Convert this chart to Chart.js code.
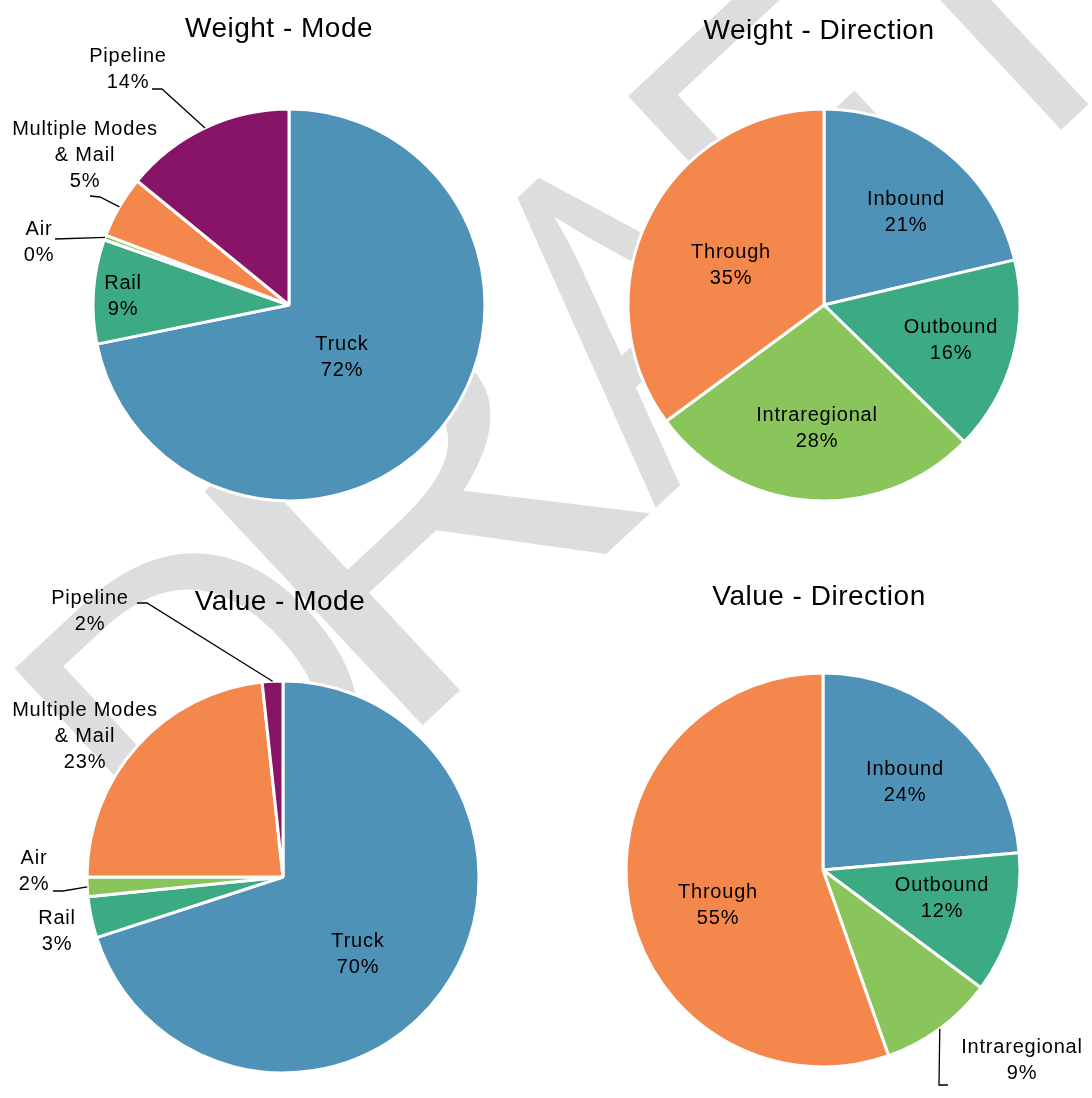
<!DOCTYPE html>
<html lang="en">
  <head>
    <meta charset="UTF-8" />
    <title>Freight by Mode and Direction</title>
    <style>
      html, body { margin: 0; padding: 0; background: #fff; }
      #page { position: relative; width: 1092px; height: 1098px; overflow: hidden; }
      #page canvas { position: absolute; left: 0; top: 0; }
    </style>
  </head>
  <body>
    <div id="page">
      <canvas id="watermark" width="1092" height="1098"></canvas>
      <canvas id="weightMode" width="1092" height="1098"></canvas>
      <canvas id="weightDirection" width="1092" height="1098"></canvas>
      <canvas id="valueMode" width="1092" height="1098"></canvas>
      <canvas id="valueDirection" width="1092" height="1098"></canvas>
    </div>

    <script src="https://cdn.jsdelivr.net/npm/chart.js@4.4.1/dist/chart.umd.min.js"></script>
    <script>
      // data (shares in percent)
      const modeLabels = ["Truck", "Rail", "Air", "Multiple Modes & Mail", "Pipeline"];
      const weightModeValues = [71.8, 8.6, 0.4, 5.1, 14.1];
      const valueModeValues = [70.0, 3.4, 1.6, 23.3, 1.7];

      const directionLabels = ["Inbound", "Outbound", "Intraregional", "Through"];
      const weightDirectionValues = [21.3, 16.0, 27.6, 35.1];
      const valueDirectionValues = [23.6, 11.6, 9.4, 55.4];

      // colours
      const blue = "#4f92b7";
      const green = "#3cab83";
      const lime = "#8ac55b";
      const orange = "#f4874b";
      const purple = "#871466";
      const modeColors = [blue, green, lime, orange, purple];
      const directionColors = [blue, green, lime, orange];

      const labelFont = '20px "Liberation Sans", Arial, sans-serif';
      const titleFont = '28px "Liberation Sans", Arial, sans-serif';
      const lineGap = 26;

      // light grey DRAFT watermark behind the pies, one glyph at a time
      const wm = document.getElementById("watermark").getContext("2d");
      const wmAngle = (-43 * Math.PI) / 180;
      const wmBase = { x: 736, y: 433 }; // baseline point under the A
      // glyph, offset along the baseline, horizontal stretch
      const wmGlyphs = [
        ["D", -732, 1],
        ["R", -489, 1.38],
        ["A", 15, 0.88],
        ["F", 107, 1],
        ["T", 340, 1],
      ];
      wm.fillStyle = "#dddddd";
      wm.font = '448px "Open Sans", "Noto Sans", sans-serif';
      wm.textBaseline = "alphabetic";
      wmGlyphs.forEach(([g, off, sx]) => {
        wm.save();
        wm.translate(wmBase.x + off * Math.cos(wmAngle), wmBase.y + off * Math.sin(wmAngle));
        wm.rotate(wmAngle);
        wm.scale(sx, 1);
        wm.textAlign = g === "A" ? "center" : "left";
        wm.fillText(g, 0, 0);
        wm.restore();
      });

      function splitLabel(text) {
        if (text === "Multiple Modes & Mail") return ["Multiple Modes", "& Mail"];
        return [text];
      }

      // draws title, data labels and leader lines
      const pieLabels = {
        id: "pieLabels",
        afterDatasetsDraw(chart, args, opts) {
          const ctx = chart.ctx;
          const meta = chart.getDatasetMeta(0);
          const values = chart.data.datasets[0].data;
          const total = values.reduce((a, b) => a + b, 0);
          ctx.save();
          ctx.fillStyle = "#000";
          ctx.textAlign = "center";

          ctx.font = titleFont;
          ctx.letterSpacing = "0.5px";
          ctx.textBaseline = "alphabetic";
          ctx.fillText(opts.title, opts.titleX, opts.titleY);

          ctx.font = labelFont;
          ctx.letterSpacing = "0.8px";
          ctx.textBaseline = "middle";
          meta.data.forEach((arc, i) => {
            const p = opts.positions[i];
            const { x, y, startAngle, endAngle, outerRadius } = arc.getProps(
              ["x", "y", "startAngle", "endAngle", "outerRadius"],
              true
            );
            const lines = splitLabel(chart.data.labels[i]);
            lines.push(Math.round((values[i] / total) * 100) + "%");
            const top = y + p.dy - ((lines.length - 1) * lineGap) / 2;
            lines.forEach((t, k) => ctx.fillText(t, x + p.dx, top + k * lineGap));

            if (p.leader) {
              const mid = (startAngle + endAngle) / 2;
              ctx.beginPath();
              ctx.moveTo(x + Math.cos(mid) * outerRadius, y + Math.sin(mid) * outerRadius);
              p.leader.forEach((pt) => ctx.lineTo(x + pt[0], y + pt[1]));
              ctx.strokeStyle = "#000";
              ctx.lineWidth = 1.3;
              ctx.stroke();
            }
          });
          ctx.restore();
        },
      };

      function makePie(id, labels, values, colors, center, radius, labelOpts) {
        const W = 1092, H = 1098;
        return new Chart(document.getElementById(id), {
          type: "pie",
          data: {
            labels: labels,
            datasets: [
              {
                data: values,
                backgroundColor: colors,
                borderColor: "#fff",
                borderWidth: 3,
                hoverOffset: 0,
                radius: radius,
                clip: false,
              },
            ],
          },
          options: {
            responsive: false,
            animation: false,
            events: [],
            layout: {
              padding: {
                left: center.x - radius,
                top: center.y - radius,
                right: W - center.x - radius,
                bottom: H - center.y - radius,
              },
            },
            plugins: {
              legend: { display: false },
              tooltip: { enabled: false },
              pieLabels: labelOpts,
            },
          },
          plugins: [pieLabels],
        });
      }

      makePie("weightMode", modeLabels, weightModeValues, modeColors, { x: 289, y: 305 }, 196, {
        title: "Weight - Mode",
        titleX: 279,
        titleY: 37,
        positions: [
          { dx: 53, dy: 52 },
          { dx: -166, dy: -9 },
          { dx: -250, dy: -63, leader: [[-234, -66]] },
          { dx: -204, dy: -150, leader: [[-189, -108], [-199, -109]] },
          { dx: -161, dy: -236, leader: [[-127, -216], [-137, -216]] },
        ],
      });

      makePie("weightDirection", directionLabels, weightDirectionValues, directionColors, { x: 824, y: 305 }, 196, {
        title: "Weight - Direction",
        titleX: 819,
        titleY: 39,
        positions: [
          { dx: 82, dy: -93 },
          { dx: 127, dy: 35 },
          { dx: -7, dy: 123 },
          { dx: -93, dy: -40 },
        ],
      });

      makePie("valueMode", modeLabels, valueModeValues, modeColors, { x: 283, y: 877 }, 196, {
        title: "Value - Mode",
        titleX: 280,
        titleY: 610,
        positions: [
          { dx: 75, dy: 77 },
          { dx: -226, dy: 54 },
          { dx: -249, dy: -6, leader: [[-220, 14], [-230, 14]] },
          { dx: -198, dy: -141 },
          { dx: -193, dy: -266, leader: [[-136, -274], [-146, -274]] },
        ],
      });

      makePie("valueDirection", directionLabels, valueDirectionValues, directionColors, { x: 823, y: 870 }, 197, {
        title: "Value - Direction",
        titleX: 819,
        titleY: 605,
        positions: [
          { dx: 82, dy: -88 },
          { dx: 119, dy: 28 },
          { dx: 199, dy: 190, leader: [[116, 215], [125, 215]] },
          { dx: -105, dy: 35 },
        ],
      });
    </script>
  </body>
</html>
